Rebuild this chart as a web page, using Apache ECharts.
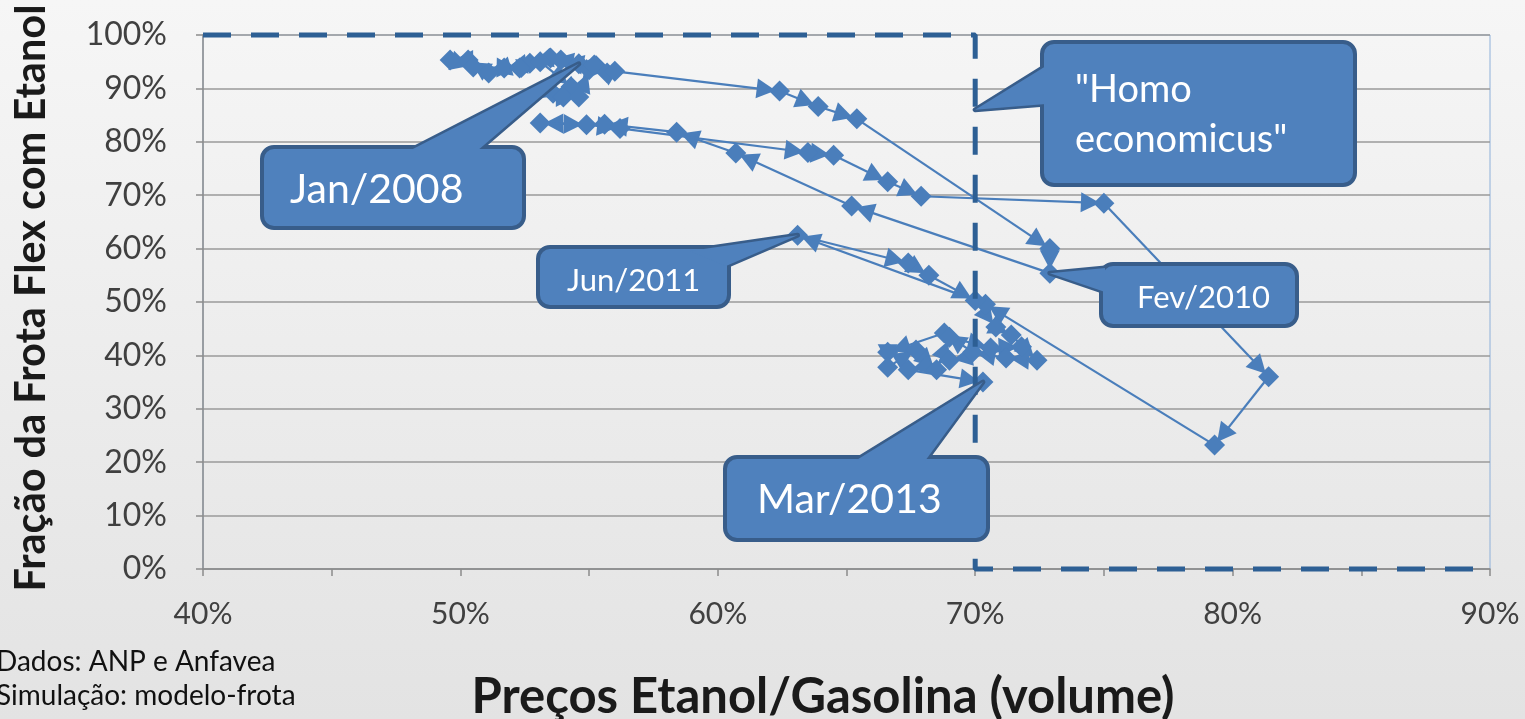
<!DOCTYPE html>
<html>
<head>
<meta charset="utf-8">
<script src="https://cdn.jsdelivr.net/npm/echarts/dist/echarts.min.js"></script>
<style>
  html, body { margin: 0; padding: 0; background: #eeeeee; }
  #chart { width: 1525px; height: 719px; }
</style>
</head>
<body>
<div id="chart"></div>
<script>
// preço etanol / gasolina (%) e fração da frota flex com etanol (%), um ponto por mês
const ratio = [
  54.6, 53.9, 53.5, 52.7, 51.7, 51.1, 50.3, 49.6, 50.5, 52.3, 53.1, 54.3, 53.6, 54.0, 54.6, 55.0, 55.7, 55.2, 56.0,
  62.4, 63.9, 65.4, 72.9, 72.9, 65.2, 60.7, 58.4, 55.6, 53.1, 54.9, 56.2, 63.5, 64.5, 66.6, 67.9, 75.0, 81.4, 79.3,
  70.4, 63.1, 67.4, 68.2, 70.0, 70.8, 71.4, 72.4, 71.2, 69.9, 68.8, 66.6, 66.6, 67.7, 68.5, 69.0, 70.6, 71.8, 69.0,
  67.4, 70.3
];
const flexShare = [
  94.6, 95.3, 95.7, 94.7, 93.8, 92.9, 95.3, 95.3, 94.0, 93.8, 95.0, 90.3, 89.1, 88.4, 88.4, 93.5, 92.9, 94.4, 93.2,
  89.5, 86.6, 84.3, 60.0, 55.4, 68.0, 77.9, 81.8, 83.3, 83.5, 83.2, 82.5, 78.0, 77.5, 72.5, 69.8, 68.5, 36.0, 23.2,
  49.6, 62.5, 57.3, 55.0, 50.3, 45.3, 43.8, 39.1, 39.5, 40.6, 44.2, 40.6, 37.8, 41.0, 37.3, 43.4, 41.4, 41.6, 39.1,
  37.3, 35.0
];
// "homo economicus": só etanol abaixo de 70%, nada acima
const econRatio = [40, 70, 70, 90];
const econShare = [100, 100, 0, 0];

const calloutText = ["Jan/2008", "Fev/2010", "Jun/2011", "Mar/2013"];
const calloutPoint = [0, 23, 39, 58];

const FONT = "Lato, 'Open Sans', sans-serif";
const BLUE = "#4a7ebb";
const BOX = "#4f81bd";
const EDGE = "#385d8a";

const points = ratio.map((r, i) => [r, flexShare[i]]);
// cada trecho mês a mês: [x0, y0, x1, y1]
const segments = points.slice(1).map((p, i) => [points[i][0], points[i][1], p[0], p[1]]);

// linha do trecho + ponta de seta logo antes do ponto de chegada
function renderSegment(params, api) {
  const a = api.coord([api.value(0), api.value(1)]);
  const b = api.coord([api.value(2), api.value(3)]);
  const dx = b[0] - a[0], dy = b[1] - a[1];
  const len = Math.hypot(dx, dy) || 1;
  const ux = dx / len, uy = dy / len;
  const tip = [b[0] - ux * 4, b[1] - uy * 4];
  const base = [tip[0] - ux * 19, tip[1] - uy * 19];
  const w = 10;
  return {
    type: "group",
    children: [
      { type: "line", shape: { x1: a[0], y1: a[1], x2: b[0], y2: b[1] },
        style: { stroke: BLUE, lineWidth: 2.2 } },
      { type: "polygon",
        shape: { points: [tip, [base[0] - uy * w, base[1] + ux * w], [base[0] + uy * w, base[1] - ux * w]] },
        style: { fill: BLUE } },
    ],
  };
}

const chart = echarts.init(document.getElementById("chart"));

chart.setOption({
  animation: false,
  backgroundColor: new echarts.graphic.LinearGradient(0, 0, 0, 1, [
    { offset: 0, color: "#f6f6f6" },
    { offset: 1, color: "#e3e3e3" },
  ]),
  grid: {
    left: 203, right: 35, top: 35, bottom: 150,
    outerBoundsMode: "none",
    show: true, borderColor: "#8eb0d9", borderWidth: 1, backgroundColor: "transparent",
  },
  xAxis: {
    type: "value", min: 40, max: 90, interval: 5,
    name: "Preços Etanol/Gasolina (volume)",
    nameLocation: "middle", nameGap: 104,
    nameTextStyle: { fontFamily: FONT, fontSize: 49, fontWeight: "bold", color: "#1a1a1a", padding: [0, 47, 0, 0] },
    axisLine: { show: true, lineStyle: { color: "#8c8c8c", width: 1.5 } },
    axisTick: { show: true, length: 7, lineStyle: { color: "#8c8c8c", width: 1.5 } },
    axisLabel: {
      formatter: (v) => (v % 10 === 0 ? v + "%" : ""),
      fontFamily: FONT, fontSize: 30, color: "#404040", margin: 30,
    },
    splitLine: { show: false },
  },
  yAxis: {
    type: "value", min: 0, max: 100, interval: 10,
    name: "Fração da Frota Flex com Etanol",
    nameLocation: "middle", nameRotate: 90, nameGap: 150,
    nameTextStyle: { fontFamily: FONT, fontSize: 41.5, fontWeight: "bold", color: "#1a1a1a", padding: [0, 0, 0, 8] },
    axisLine: { show: true, lineStyle: { color: "#8c8c8c", width: 1.5 } },
    axisTick: { show: true, length: 7, lineStyle: { color: "#8c8c8c", width: 1.5 } },
    axisLabel: { formatter: "{value}%", fontFamily: FONT, fontSize: 32, color: "#404040", margin: 36 },
    splitLine: { lineStyle: { color: "#9a9a9a", width: 1.5 } },
  },
  series: [
    {
      type: "custom",
      coordinateSystem: "cartesian2d",
      data: segments,
      encode: { x: [0, 2], y: [1, 3] },
      renderItem: renderSegment,
      silent: true,
      z: 3,
    },
    {
      type: "scatter",
      data: points,
      symbol: "diamond",
      symbolSize: 21,
      itemStyle: { color: BLUE, opacity: 1 },
      silent: true,
      z: 4,
    },
    {
      type: "line",
      data: econRatio.map((r, i) => [r, econShare[i]]),
      symbol: "none",
      clip: false,
      lineStyle: { color: "#2d5f94", width: 5, type: [28, 20] },
      silent: true,
      z: 5,
    },
  ],
});

// balões de texto (formato de chamada do slide)
const graphics = [];
function addCallout(box, lines, size, lineH, textPos, base, tip) {
  const [x, y, w, h] = box;
  const pts = [base[0], tip, base[1]];
  graphics.push({ type: "polygon", z: 100, shape: { points: pts },
    style: { fill: BOX, stroke: EDGE, lineWidth: 5, lineJoin: "round" } });
  graphics.push({ type: "rect", z: 101, shape: { x, y, width: w, height: h, r: 12 },
    style: { fill: BOX, stroke: EDGE, lineWidth: 4 } });
  graphics.push({ type: "polygon", z: 102, shape: { points: pts }, style: { fill: BOX } });
  graphics.push({ type: "text", z: 103, x: textPos[0], y: textPos[1],
    style: { text: lines.join("\n"), fill: "#ffffff", font: size + "px " + FONT,
      align: "left", verticalAlign: "middle", lineHeight: lineH } });
}

const px = (p) => chart.convertToPixel({ gridIndex: 0 }, p);

addCallout([262, 147, 262, 81], [calloutText[0]], 41, 50, [290, 190],
  [[409, 151], [477, 151]], px(points[calloutPoint[0]]));
addCallout([1101, 264, 196, 62], [calloutText[1]], 31, 40, [1137, 298],
  [[1105, 268], [1105, 292]], px(points[calloutPoint[1]]));
addCallout([538, 247, 191, 60], [calloutText[2]], 31, 40, [567, 281],
  [[690, 251], [726, 266]], px(points[calloutPoint[2]]));
addCallout([725, 457, 263, 83], [calloutText[3]], 41, 50, [757, 500],
  [[855, 461], [925, 461]], px(points[calloutPoint[3]]));
addCallout([1042, 42, 313, 143], ['"Homo', 'economicus"'], 38, 50, [1075, 115],
  [[1046, 66], [1046, 104]], px([70, 86]));

graphics.push({
  type: "text", left: -4, top: 645, z: 50,
  style: { text: "Dados: ANP e Anfavea\nSimulação: modelo-frota", fill: "#111111",
    font: "28px " + FONT, lineHeight: 34 },
});

chart.setOption({ graphic: graphics });
</script>
</body>
</html>
